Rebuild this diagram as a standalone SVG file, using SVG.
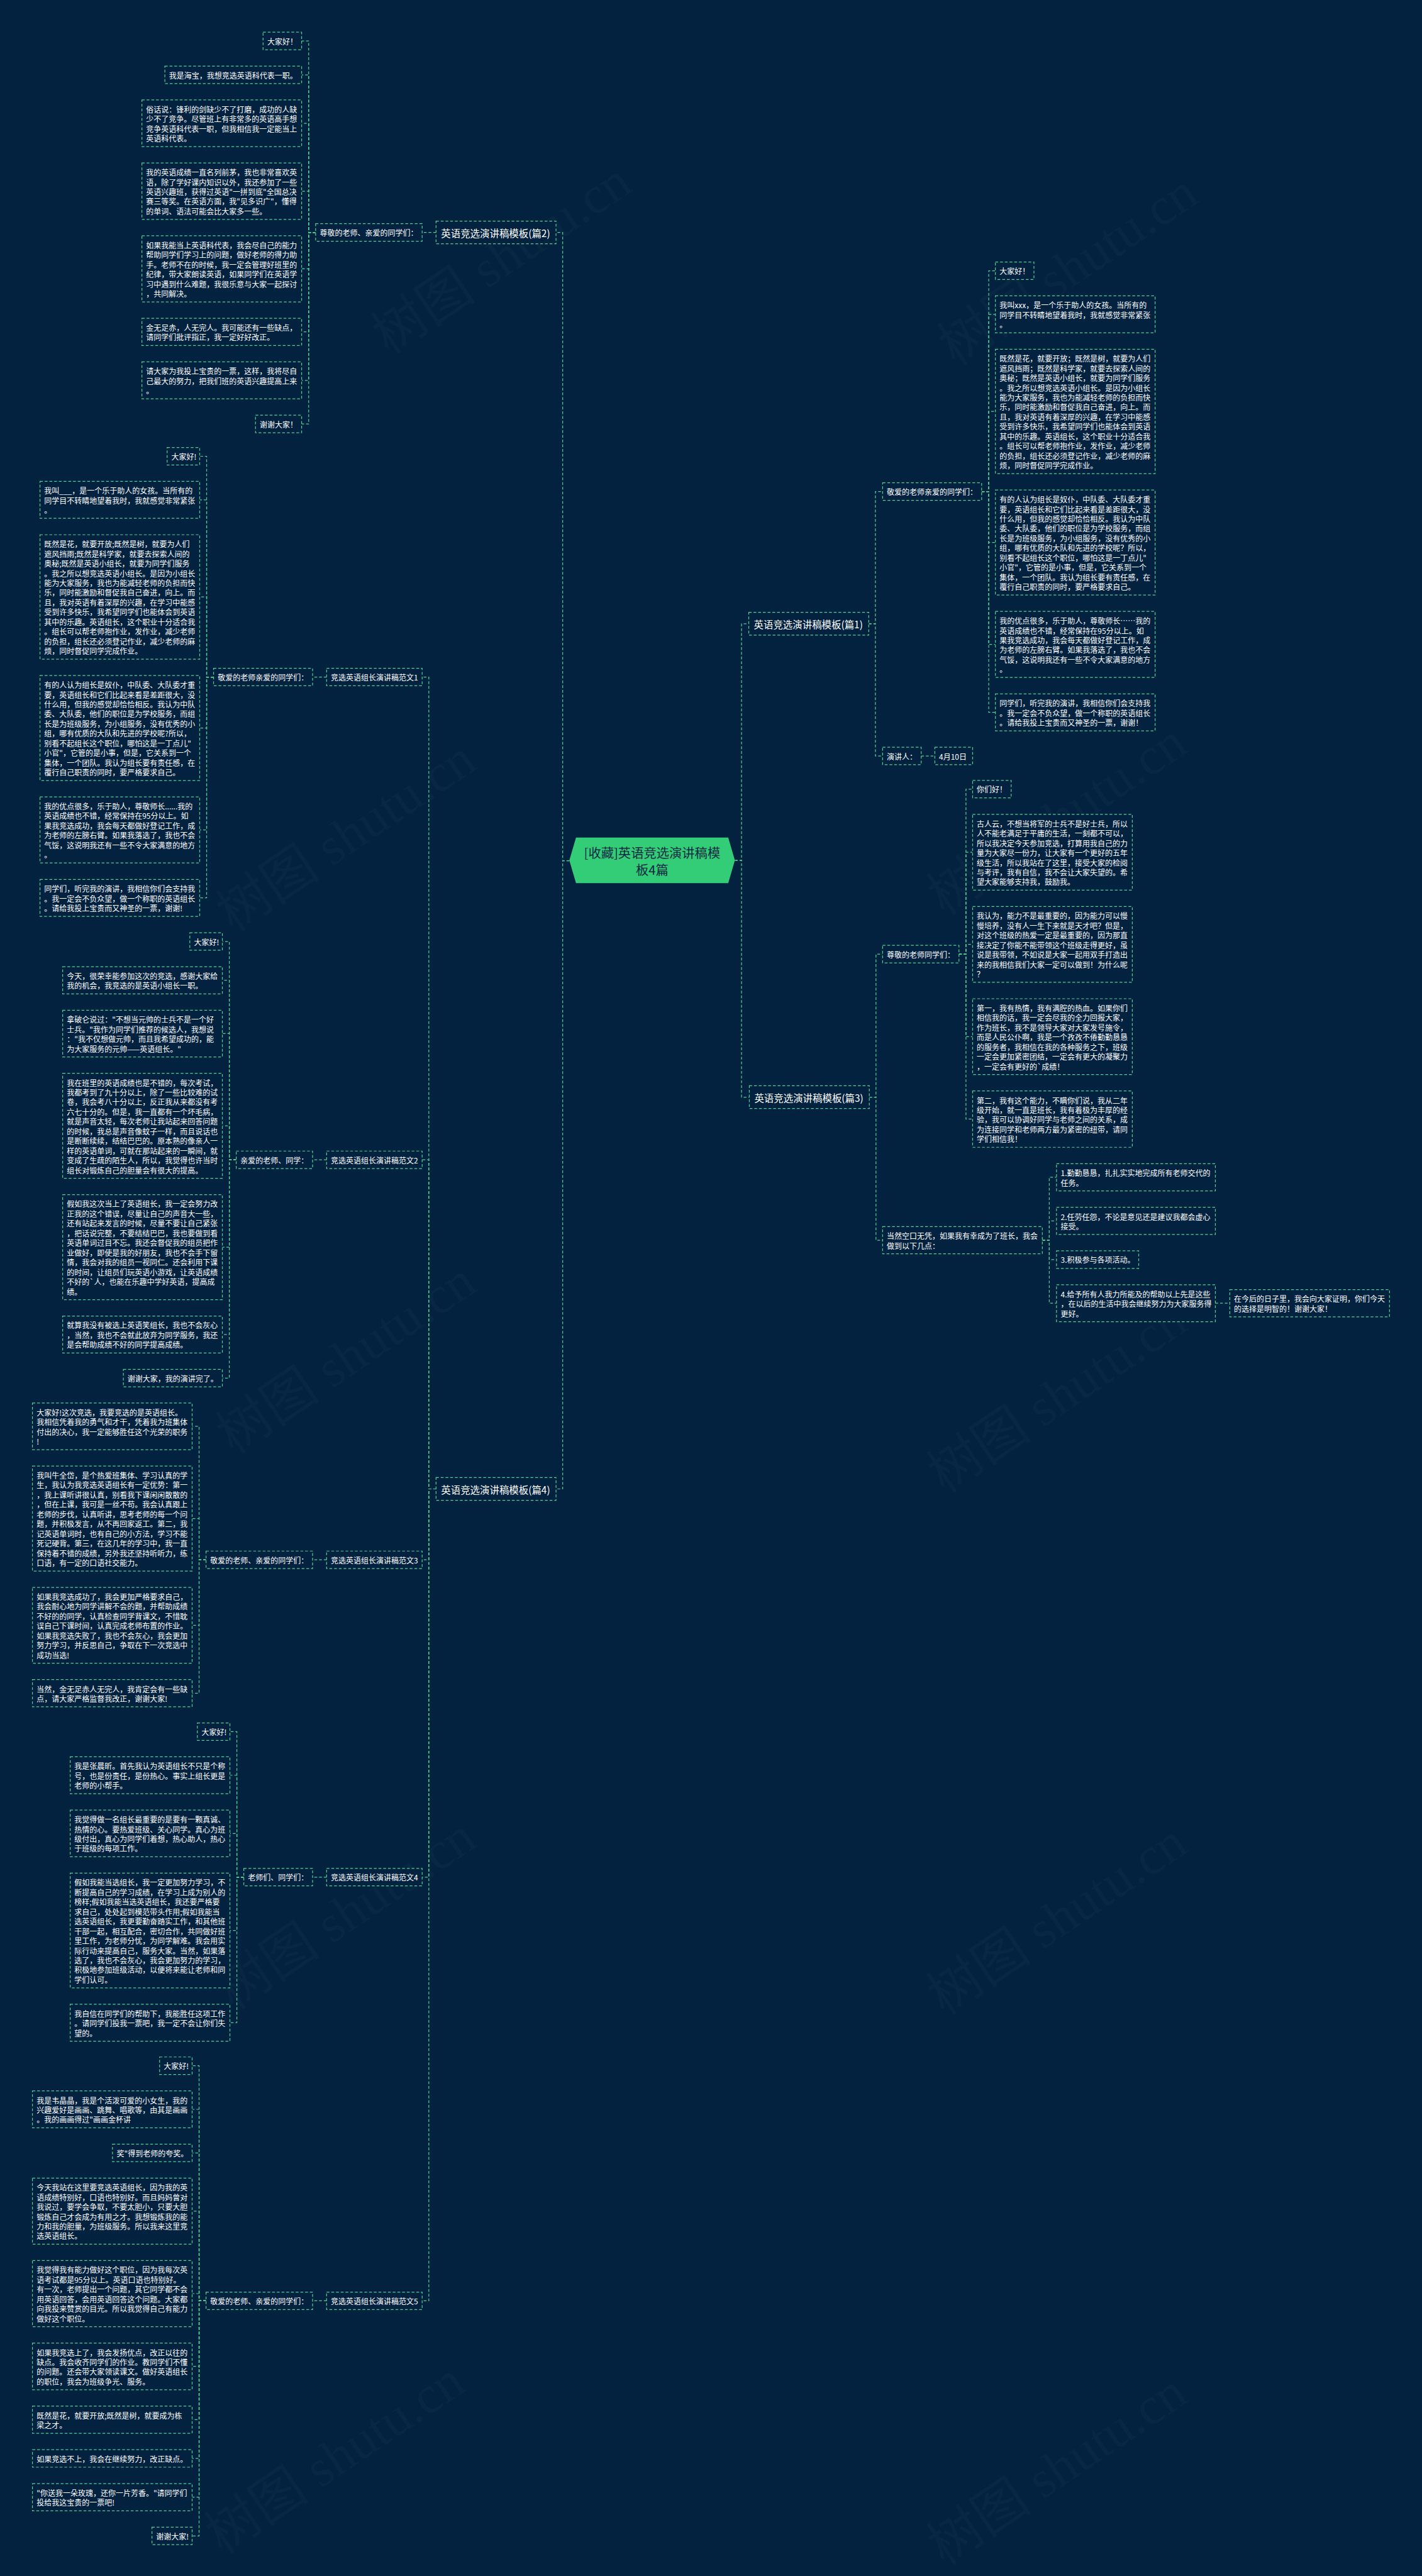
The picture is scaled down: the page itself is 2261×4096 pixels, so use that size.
<svg xmlns="http://www.w3.org/2000/svg" width="2261" height="4096" viewBox="0 0 2261 4096">
<style>
.b{fill:#03223f;stroke:#4fcf91;stroke-width:1.4;stroke-dasharray:5 3.5}
.t{font-family:"Noto Sans CJK SC","Noto Sans",sans-serif;font-size:13.6px;fill:#ffffff;dominant-baseline:central}
.h{font-size:17.5px}
#links path{fill:none;stroke:#4fcf91;stroke-width:1.4;stroke-dasharray:5 3.5}
.wm{font-family:"Liberation Serif","Noto Sans CJK SC",serif;font-size:95px;fill:#ffffff;fill-opacity:0.025}
</style>
<rect x="0" y="0" width="2261" height="4096" fill="#03223f"/>
<g transform="scale(0.8832)">
<g id="watermarks">
<text class="wm" transform="translate(700,640) rotate(-34)">树图 shutu.cn</text>
<text class="wm" transform="translate(1720,660) rotate(-34)">树图 shutu.cn</text>
<text class="wm" transform="translate(420,1680) rotate(-34)">树图 shutu.cn</text>
<text class="wm" transform="translate(1700,1650) rotate(-34)">树图 shutu.cn</text>
<text class="wm" transform="translate(420,2620) rotate(-34)">树图 shutu.cn</text>
<text class="wm" transform="translate(1700,2690) rotate(-34)">树图 shutu.cn</text>
<text class="wm" transform="translate(420,3620) rotate(-34)">树图 shutu.cn</text>
<text class="wm" transform="translate(1700,3630) rotate(-34)">树图 shutu.cn</text>
<text class="wm" transform="translate(400,4600) rotate(-34)">树图 shutu.cn</text>
<text class="wm" transform="translate(1700,4620) rotate(-34)">树图 shutu.cn</text>
</g>
<g id="links">
<path d="M1323 1549.15H1335V1123H1348"/>
<path d="M1323 1549.15H1335V1975.3H1349"/>
<path d="M1564 1123H1576V885H1589"/>
<path d="M1564 1123H1576V1361H1589"/>
<path d="M1767.2 885H1780V487.45H1792"/>
<path d="M1767.2 885H1780V565.95H1792"/>
<path d="M1767.2 885H1780V740.7H1792"/>
<path d="M1767.2 885H1780V976.7H1792"/>
<path d="M1767.2 885H1780V1160.2H1792"/>
<path d="M1767.2 885H1780V1282.45H1792"/>
<path d="M1658.4 1361H1683"/>
<path d="M1565 1975.3H1577V1717.75H1589"/>
<path d="M1565 1975.3H1577V2232.9H1589"/>
<path d="M1726.4 1717.75H1739V1420.75H1751"/>
<path d="M1726.4 1717.75H1739V1534.25H1751"/>
<path d="M1726.4 1717.75H1739V1700.25H1751"/>
<path d="M1726.4 1717.75H1739V1866.25H1751"/>
<path d="M1726.4 1717.75H1739V2014.75H1751"/>
<path d="M1876.5 2232.9H1889V2119.5H1902"/>
<path d="M1876.5 2232.9H1889V2198H1902"/>
<path d="M1876.5 2232.9H1889V2267.75H1902"/>
<path d="M1876.5 2232.9H1889V2346.25H1902"/>
<path d="M2188 2346.25H2214"/>
<path d="M1025 1549.55H1013V418.5H1001"/>
<path d="M1025 1549.55H1013V2680.6H1001"/>
<path d="M785 418.5H760"/>
<path d="M568.2 418.5H555.7V73.75H543"/>
<path d="M568.2 418.5H555.7V134.75H543"/>
<path d="M568.2 418.5H555.7V222H543"/>
<path d="M568.2 418.5H555.7V344.25H543"/>
<path d="M568.2 418.5H555.7V484H543"/>
<path d="M568.2 418.5H555.7V597.5H543"/>
<path d="M568.2 418.5H555.7V684.75H543"/>
<path d="M568.2 418.5H555.7V763.25H543"/>
<path d="M785 2680.6H772V1218.95H760"/>
<path d="M785 2680.6H772V2088.05H760"/>
<path d="M785 2680.6H772V2808.15H760"/>
<path d="M785 2680.6H772V3379.55H760"/>
<path d="M785 2680.6H772V4142.3H760"/>
<path d="M588 1218.95H562.7"/>
<path d="M588 2088.05H562.7"/>
<path d="M588 2808.15H562.7"/>
<path d="M588 3379.55H562.7"/>
<path d="M588 4142.3H562.7"/>
<path d="M384.5 1218.95H372V821.45H359.5"/>
<path d="M384.5 1218.95H372V899.95H359.5"/>
<path d="M384.5 1218.95H372V1074.7H359.5"/>
<path d="M384.5 1218.95H372V1310.7H359.5"/>
<path d="M384.5 1218.95H372V1494.2H359.5"/>
<path d="M384.5 1218.95H372V1616.45H359.5"/>
<path d="M425.3 2088.05H412.8V1695.05H400.3"/>
<path d="M425.3 2088.05H412.8V1764.8H400.3"/>
<path d="M425.3 2088.05H412.8V1860.8H400.3"/>
<path d="M425.3 2088.05H412.8V2026.8H400.3"/>
<path d="M425.3 2088.05H412.8V2245.3H400.3"/>
<path d="M425.3 2088.05H412.8V2402.55H400.3"/>
<path d="M425.3 2088.05H412.8V2481.05H400.3"/>
<path d="M370.9 2808.15H358.4V2567.9H345.9"/>
<path d="M370.9 2808.15H358.4V2733.9H345.9"/>
<path d="M370.9 2808.15H358.4V2926.15H345.9"/>
<path d="M370.9 2808.15H358.4V3048.4H345.9"/>
<path d="M438.9 3379.55H426.4V3117.55H413.9"/>
<path d="M438.9 3379.55H426.4V3196.05H413.9"/>
<path d="M438.9 3379.55H426.4V3300.8H413.9"/>
<path d="M438.9 3379.55H426.4V3475.55H413.9"/>
<path d="M438.9 3379.55H426.4V3641.55H413.9"/>
<path d="M370.9 4142.3H358.4V3719.05H345.9"/>
<path d="M370.9 4142.3H358.4V3797.55H345.9"/>
<path d="M370.9 4142.3H358.4V3876.05H345.9"/>
<path d="M370.9 4142.3H358.4V3980.8H345.9"/>
<path d="M370.9 4142.3H358.4V4129.3H345.9"/>
<path d="M370.9 4142.3H358.4V4260.3H345.9"/>
<path d="M370.9 4142.3H358.4V4356.3H345.9"/>
<path d="M370.9 4142.3H358.4V4426.05H345.9"/>
<path d="M370.9 4142.3H358.4V4495.8H345.9"/>
<path d="M370.9 4142.3H358.4V4565.55H345.9"/>
</g>

<g id="center">
<polygon points="1037,1508 1311,1508 1323,1549 1311,1590 1037,1590 1025,1549" fill="#33cc77"/>
<text x="1174" y="1534" text-anchor="middle" dominant-baseline="central" font-family="Noto Sans CJK SC, Noto Sans, sans-serif" font-size="23" fill="#0b2a44">[收藏]英语竞选演讲稿模</text>
<text x="1174" y="1565" text-anchor="middle" dominant-baseline="central" font-family="Noto Sans CJK SC, Noto Sans, sans-serif" font-size="23" fill="#0b2a44">板4篇</text>
</g>

<!-- Right: 篇1 -->
<g id="p1"><rect class="b" x="1348" y="1102.5" width="216" height="41"/><text class="t h" x="1357" y="1123">英语竞选演讲稿模板(篇1)</text></g>
<g id="p1-l2"><rect class="b" x="1589" y="869.25" width="178.2" height="31.5"/><text class="t" x="1596.5" y="885">敬爱的老师亲爱的同学们：</text></g>
<g id="p1-speaker"><rect class="b" x="1589" y="1345.25" width="69.4" height="31.5"/><text class="t" x="1596.5" y="1361">演讲人：</text></g>
<g id="p1-date"><rect class="b" x="1683" y="1345.25" width="68" height="31.5"/><text class="t" x="1690.5" y="1361">4月10日</text></g>
<g id="r1a"><rect class="b" x="1792" y="471.7" width="69.4" height="31.5"/><text class="t" x="1799.5" y="487.45">大家好！</text></g>
<g id="r1b"><rect class="b" x="1792" y="532.7" width="287.5" height="66.5"/><text class="t" y="548.45"><tspan x="1799.5">我叫xxx，是一个乐于助人的女孩。当所有的</tspan><tspan x="1799.5" dy="17.5">同学目不转睛地望着我时，我就感觉非常紧张</tspan><tspan x="1799.5" dy="17.5">。</tspan></text></g>
<g id="r1c"><rect class="b" x="1792" y="628.7" width="287.5" height="224"/><text class="t" y="644.45"><tspan x="1799.5">既然是花，就要开放；既然是树，就要为人们</tspan><tspan x="1799.5" dy="17.5">遮风挡雨；既然是科学家，就要去探索人间的</tspan><tspan x="1799.5" dy="17.5">奥秘；既然是英语小组长，就要为同学们服务</tspan><tspan x="1799.5" dy="17.5">。我之所以想竞选英语小组长。是因为小组长</tspan><tspan x="1799.5" dy="17.5">能为大家服务，我也为能减轻老师的负担而快</tspan><tspan x="1799.5" dy="17.5">乐，同时能激励和督促我自己奋进，向上。而</tspan><tspan x="1799.5" dy="17.5">且，我对英语有着深厚的兴趣，在学习中能感</tspan><tspan x="1799.5" dy="17.5">受到许多快乐，我希望同学们也能体会到英语</tspan><tspan x="1799.5" dy="17.5">其中的乐趣。英语组长，这个职业十分适合我</tspan><tspan x="1799.5" dy="17.5">。组长可以帮老师抱作业，发作业，减少老师</tspan><tspan x="1799.5" dy="17.5">的负担，组长还必须登记作业，减少老师的麻</tspan><tspan x="1799.5" dy="17.5">烦，同时督促同学完成作业。</tspan></text></g>
<g id="r1d"><rect class="b" x="1792" y="882.2" width="287.5" height="189"/><text class="t" y="897.95"><tspan x="1799.5">有的人认为组长是奴仆，中队委、大队委才重</tspan><tspan x="1799.5" dy="17.5">要，英语组长和它们比起来看是差距很大，没</tspan><tspan x="1799.5" dy="17.5">什么用，但我的感觉却恰恰相反。我认为中队</tspan><tspan x="1799.5" dy="17.5">委、大队委，他们的职位是为学校服务，而组</tspan><tspan x="1799.5" dy="17.5">长是为班级服务，为小组服务，没有优秀的小</tspan><tspan x="1799.5" dy="17.5">组，哪有优质的大队和先进的学校呢？所以，</tspan><tspan x="1799.5" dy="17.5">别看不起组长这个职位，哪怕这是一丁点儿"</tspan><tspan x="1799.5" dy="17.5">小官"，它管的是小事，但是，它关系到一个</tspan><tspan x="1799.5" dy="17.5">集体，一个团队。我认为组长要有责任感，在</tspan><tspan x="1799.5" dy="17.5">覆行自己职责的同时，要严格要求自己。</tspan></text></g>
<g id="r1e"><rect class="b" x="1792" y="1100.7" width="287.5" height="119"/><text class="t" y="1116.45"><tspan x="1799.5">我的优点很多，乐于助人，尊敬师长……我的</tspan><tspan x="1799.5" dy="17.5">英语成绩也不错，经常保持在95分以上。如</tspan><tspan x="1799.5" dy="17.5">果我竞选成功，我会每天都做好登记工作，成</tspan><tspan x="1799.5" dy="17.5">为老师的左膀右臂。如果我落选了，我也不会</tspan><tspan x="1799.5" dy="17.5">气馁，这说明我还有一些不令大家满意的地方</tspan><tspan x="1799.5" dy="17.5">。</tspan></text></g>
<g id="r1f"><rect class="b" x="1792" y="1249.2" width="287.5" height="66.5"/><text class="t" y="1264.95"><tspan x="1799.5">同学们，听完我的演讲，我相信你们会支持我</tspan><tspan x="1799.5" dy="17.5">。我一定会不负众望，做一个称职的英语组长</tspan><tspan x="1799.5" dy="17.5">。请给我投上宝贵而又神圣的一票，谢谢！</tspan></text></g>

<!-- Right: 篇3 -->
<g id="p3"><rect class="b" x="1349" y="1954.8" width="216" height="41"/><text class="t h" x="1358" y="1975.3">英语竞选演讲稿模板(篇3)</text></g>
<g id="p3-l2a"><rect class="b" x="1589" y="1702" width="137.4" height="31.5"/><text class="t" x="1596.5" y="1717.75">尊敬的老师同学们：</text></g>
<g id="r3a"><rect class="b" x="1751" y="1405" width="69.4" height="31.5"/><text class="t" x="1758.5" y="1420.75">你们好！</text></g>
<g id="r3b"><rect class="b" x="1751" y="1466" width="287.5" height="136.5"/><text class="t" y="1481.75"><tspan x="1758.5">古人云，不想当将军的士兵不是好士兵，所以</tspan><tspan x="1758.5" dy="17.5">人不能老满足于平庸的生活，一刻都不可以，</tspan><tspan x="1758.5" dy="17.5">所以我决定今天参加竞选，打算用我自己的力</tspan><tspan x="1758.5" dy="17.5">量为大家尽一份力，让大家有一个更好的五年</tspan><tspan x="1758.5" dy="17.5">级生活，所以我站在了这里，接受大家的检阅</tspan><tspan x="1758.5" dy="17.5">与考评，我有自信，我不会让大家失望的。希</tspan><tspan x="1758.5" dy="17.5">望大家能够支持我，鼓励我。</tspan></text></g>
<g id="r3c"><rect class="b" x="1751" y="1632" width="287.5" height="136.5"/><text class="t" y="1647.75"><tspan x="1758.5">我认为，能力不是最重要的，因为能力可以慢</tspan><tspan x="1758.5" dy="17.5">慢培养，没有人一生下来就是天才吧？但是，</tspan><tspan x="1758.5" dy="17.5">对这个班级的热爱一定是最重要的，因为那直</tspan><tspan x="1758.5" dy="17.5">接决定了你能不能带领这个班级走得更好，虽</tspan><tspan x="1758.5" dy="17.5">说是我带领，不如说是大家一起用双手打造出</tspan><tspan x="1758.5" dy="17.5">来的我相信我们大家一定可以做到！为什么呢</tspan><tspan x="1758.5" dy="17.5">？</tspan></text></g>
<g id="r3d"><rect class="b" x="1751" y="1798" width="287.5" height="136.5"/><text class="t" y="1813.75"><tspan x="1758.5">第一，我有热情，我有满腔的热血。如果你们</tspan><tspan x="1758.5" dy="17.5">相信我的话，我一定会尽我的全力回报大家，</tspan><tspan x="1758.5" dy="17.5">作为班长，我不是领导大家对大家发号施令，</tspan><tspan x="1758.5" dy="17.5">而是人民公仆啊，我是一个孜孜不倦勤勤恳恳</tspan><tspan x="1758.5" dy="17.5">的服务者，我相信在我的各种服务之下，班级</tspan><tspan x="1758.5" dy="17.5">一定会更加紧密团结，一定会有更大的凝聚力</tspan><tspan x="1758.5" dy="17.5">，一定会有更好的`成绩！</tspan></text></g>
<g id="r3e"><rect class="b" x="1751" y="1964" width="287.5" height="101.5"/><text class="t" y="1979.75"><tspan x="1758.5">第二，我有这个能力，不瞒你们说，我从二年</tspan><tspan x="1758.5" dy="17.5">级开始，就一直是班长，我有着极为丰厚的经</tspan><tspan x="1758.5" dy="17.5">验，我可以协调好同学与老师之间的关系，成</tspan><tspan x="1758.5" dy="17.5">为连接同学和老师两方最为紧密的纽带，请同</tspan><tspan x="1758.5" dy="17.5">学们相信我！</tspan></text></g>
<g id="p3-l2b"><rect class="b" x="1589" y="2208.4" width="287.5" height="49"/><text class="t" y="2224.15"><tspan x="1596.5">当然空口无凭，如果我有幸成为了班长，我会</tspan><tspan x="1596.5" dy="17.5">做到以下几点：</tspan></text></g>
<g id="i1"><rect class="b" x="1902" y="2095" width="286" height="49"/><text class="t" y="2110.75"><tspan x="1909.5">1.勤勤恳恳，扎扎实实地完成所有老师交代的</tspan><tspan x="1909.5" dy="17.5">任务。</tspan></text></g>
<g id="i2"><rect class="b" x="1902" y="2173.5" width="286" height="49"/><text class="t" y="2189.25"><tspan x="1909.5">2.任劳任怨，不论是意见还是建议我都会虚心</tspan><tspan x="1909.5" dy="17.5">接受。</tspan></text></g>
<g id="i3"><rect class="b" x="1902" y="2252" width="148" height="31.5"/><text class="t" x="1909.5" y="2267.75">3.积极参与各项活动。</text></g>
<g id="i4"><rect class="b" x="1902" y="2313" width="286" height="66.5"/><text class="t" y="2328.75"><tspan x="1909.5">4.给予所有人我力所能及的帮助以上先是这些</tspan><tspan x="1909.5" dy="17.5">，在以后的生活中我会继续努力为大家服务得</tspan><tspan x="1909.5" dy="17.5">更好。</tspan></text></g>
<g id="i4a"><rect class="b" x="2214" y="2321.75" width="287.5" height="49"/><text class="t" y="2337.5"><tspan x="2221.5">在今后的日子里，我会向大家证明，你们今天</tspan><tspan x="2221.5" dy="17.5">的选择是明智的！谢谢大家！</tspan></text></g>

<!-- Left: 篇2 -->
<g id="p2"><rect class="b" x="785" y="398" width="216" height="41"/><text class="t h" x="794" y="418.5">英语竞选演讲稿模板(篇2)</text></g>
<g id="p2-l2"><rect class="b" x="568.2" y="402.75" width="191.8" height="31.5"/><text class="t" x="575.7" y="418.5">尊敬的老师、亲爱的同学们：</text></g>
<g id="l2a"><rect class="b" x="473.6" y="58" width="69.4" height="31.5"/><text class="t" x="481.1" y="73.75">大家好！</text></g>
<g id="l2b"><rect class="b" x="296.8" y="119" width="246.2" height="31.5"/><text class="t" x="304.3" y="134.75">我是海宝，我想竞选英语科代表一职。</text></g>
<g id="l2c"><rect class="b" x="255.5" y="180" width="287.5" height="84"/><text class="t" y="195.75"><tspan x="263">俗话说：锋利的剑缺少不了打磨，成功的人缺</tspan><tspan x="263" dy="17.5">少不了竞争。尽管班上有非常多的英语高手想</tspan><tspan x="263" dy="17.5">竞争英语科代表一职，但我相信我一定能当上</tspan><tspan x="263" dy="17.5">英语科代表。</tspan></text></g>
<g id="l2d"><rect class="b" x="255.5" y="293.5" width="287.5" height="101.5"/><text class="t" y="309.25"><tspan x="263">我的英语成绩一直名列前茅，我也非常喜欢英</tspan><tspan x="263" dy="17.5">语，除了学好课内知识以外，我还参加了一些</tspan><tspan x="263" dy="17.5">英语兴趣班，获得过英语"一拼到底"全国总决</tspan><tspan x="263" dy="17.5">赛三等奖。在英语方面，我"见多识广"，懂得</tspan><tspan x="263" dy="17.5">的单词、语法可能会比大家多一些。</tspan></text></g>
<g id="l2e"><rect class="b" x="255.5" y="424.5" width="287.5" height="119"/><text class="t" y="440.25"><tspan x="263">如果我能当上英语科代表，我会尽自己的能力</tspan><tspan x="263" dy="17.5">帮助同学们学习上的问题，做好老师的得力助</tspan><tspan x="263" dy="17.5">手。老师不在的时候，我一定会管理好班里的</tspan><tspan x="263" dy="17.5">纪律，带大家朗读英语，如果同学们在英语学</tspan><tspan x="263" dy="17.5">习中遇到什么难题，我很乐意与大家一起探讨</tspan><tspan x="263" dy="17.5">，共同解决。</tspan></text></g>
<g id="l2f"><rect class="b" x="255.5" y="573" width="287.5" height="49"/><text class="t" y="588.75"><tspan x="263">金无足赤，人无完人。我可能还有一些缺点，</tspan><tspan x="263" dy="17.5">请同学们批评指正，我一定好好改正。</tspan></text></g>
<g id="l2g"><rect class="b" x="255.5" y="651.5" width="287.5" height="66.5"/><text class="t" y="667.25"><tspan x="263">请大家为我投上宝贵的一票，这样，我将尽自</tspan><tspan x="263" dy="17.5">己最大的努力，把我们班的英语兴趣提高上来</tspan><tspan x="263" dy="17.5">。</tspan></text></g>
<g id="l2h"><rect class="b" x="460" y="747.5" width="83" height="31.5"/><text class="t" x="467.5" y="763.25">谢谢大家！</text></g>

<!-- Left: 篇4 -->
<g id="p4"><rect class="b" x="785" y="2660.1" width="216" height="41"/><text class="t h" x="794" y="2680.6">英语竞选演讲稿模板(篇4)</text></g>

<g id="f1"><rect class="b" x="588" y="1203.2" width="172" height="31.5"/><text class="t" x="595.5" y="1218.95">竞选英语组长演讲稿范文1</text></g>
<g id="f1-l3"><rect class="b" x="384.5" y="1203.2" width="178.2" height="31.5"/><text class="t" x="392" y="1218.95">敬爱的老师亲爱的同学们：</text></g>
<g id="f1a"><rect class="b" x="300.9" y="805.7" width="58.6" height="31.5"/><text class="t" x="308.4" y="821.45">大家好!</text></g>
<g id="f1b"><rect class="b" x="72" y="866.7" width="287.5" height="66.5"/><text class="t" y="882.45"><tspan x="79.5">我叫___，是一个乐于助人的女孩。当所有的</tspan><tspan x="79.5" dy="17.5">同学目不转睛地望着我时，我就感觉非常紧张</tspan><tspan x="79.5" dy="17.5">。</tspan></text></g>
<g id="f1c"><rect class="b" x="72" y="962.7" width="287.5" height="224"/><text class="t" y="978.45"><tspan x="79.5">既然是花，就要开放;既然是树，就要为人们</tspan><tspan x="79.5" dy="17.5">遮风挡雨;既然是科学家，就要去探索人间的</tspan><tspan x="79.5" dy="17.5">奥秘;既然是英语小组长，就要为同学们服务</tspan><tspan x="79.5" dy="17.5">。我之所以想竞选英语小组长。是因为小组长</tspan><tspan x="79.5" dy="17.5">能为大家服务，我也为能减轻老师的负担而快</tspan><tspan x="79.5" dy="17.5">乐，同时能激励和督促我自己奋进，向上。而</tspan><tspan x="79.5" dy="17.5">且，我对英语有着深厚的兴趣，在学习中能感</tspan><tspan x="79.5" dy="17.5">受到许多快乐，我希望同学们也能体会到英语</tspan><tspan x="79.5" dy="17.5">其中的乐趣。英语组长，这个职业十分适合我</tspan><tspan x="79.5" dy="17.5">。组长可以帮老师抱作业，发作业，减少老师</tspan><tspan x="79.5" dy="17.5">的负担，组长还必须登记作业，减少老师的麻</tspan><tspan x="79.5" dy="17.5">烦，同时督促同学完成作业。</tspan></text></g>
<g id="f1d"><rect class="b" x="72" y="1216.2" width="287.5" height="189"/><text class="t" y="1231.95"><tspan x="79.5">有的人认为组长是奴仆，中队委、大队委才重</tspan><tspan x="79.5" dy="17.5">要，英语组长和它们比起来看是差距很大，没</tspan><tspan x="79.5" dy="17.5">什么用，但我的感觉却恰恰相反。我认为中队</tspan><tspan x="79.5" dy="17.5">委、大队委，他们的职位是为学校服务，而组</tspan><tspan x="79.5" dy="17.5">长是为班级服务，为小组服务，没有优秀的小</tspan><tspan x="79.5" dy="17.5">组，哪有优质的大队和先进的学校呢?所以，</tspan><tspan x="79.5" dy="17.5">别看不起组长这个职位，哪怕这是一丁点儿"</tspan><tspan x="79.5" dy="17.5">小官"，它管的是小事，但是，它关系到一个</tspan><tspan x="79.5" dy="17.5">集体，一个团队。我认为组长要有责任感，在</tspan><tspan x="79.5" dy="17.5">覆行自己职责的同时，要严格要求自己。</tspan></text></g>
<g id="f1e"><rect class="b" x="72" y="1434.7" width="287.5" height="119"/><text class="t" y="1450.45"><tspan x="79.5">我的优点很多，乐于助人，尊敬师长......我的</tspan><tspan x="79.5" dy="17.5">英语成绩也不错，经常保持在95分以上。如</tspan><tspan x="79.5" dy="17.5">果我竞选成功，我会每天都做好登记工作，成</tspan><tspan x="79.5" dy="17.5">为老师的左膀右臂。如果我落选了，我也不会</tspan><tspan x="79.5" dy="17.5">气馁，这说明我还有一些不令大家满意的地方</tspan><tspan x="79.5" dy="17.5">。</tspan></text></g>
<g id="f1f"><rect class="b" x="72" y="1583.2" width="287.5" height="66.5"/><text class="t" y="1598.95"><tspan x="79.5">同学们，听完我的演讲，我相信你们会支持我</tspan><tspan x="79.5" dy="17.5">。我一定会不负众望，做一个称职的英语组长</tspan><tspan x="79.5" dy="17.5">。请给我投上宝贵而又神圣的一票，谢谢!</tspan></text></g>

<g id="f2"><rect class="b" x="588" y="2072.3" width="172" height="31.5"/><text class="t" x="595.5" y="2088.05">竞选英语组长演讲稿范文2</text></g>
<g id="f2-l3"><rect class="b" x="425.3" y="2072.3" width="137.4" height="31.5"/><text class="t" x="432.8" y="2088.05">亲爱的老师、同学：</text></g>
<g id="f2a"><rect class="b" x="341.7" y="1679.3" width="58.6" height="31.5"/><text class="t" x="349.2" y="1695.05">大家好!</text></g>
<g id="f2b"><rect class="b" x="112.8" y="1740.3" width="287.5" height="49"/><text class="t" y="1756.05"><tspan x="120.3">今天，很荣幸能参加这次的竞选，感谢大家给</tspan><tspan x="120.3" dy="17.5">我的机会，我竞选的是英语小组长一职。</tspan></text></g>
<g id="f2c"><rect class="b" x="112.8" y="1818.8" width="287.5" height="84"/><text class="t" y="1834.55"><tspan x="120.3">拿破仑说过："不想当元帅的士兵不是一个好</tspan><tspan x="120.3" dy="17.5">士兵。"我作为同学们推荐的候选人，我想说</tspan><tspan x="120.3" dy="17.5">："我不仅想做元帅，而且我希望成功的，能</tspan><tspan x="120.3" dy="17.5">为大家服务的元帅——英语组长。"</tspan></text></g>
<g id="f2d"><rect class="b" x="112.8" y="1932.3" width="287.5" height="189"/><text class="t" y="1948.05"><tspan x="120.3">我在班里的英语成绩也是不错的，每次考试，</tspan><tspan x="120.3" dy="17.5">我都考到了九十分以上，除了一些比较难的试</tspan><tspan x="120.3" dy="17.5">卷，我会考八十分以上，反正我从来都没有考</tspan><tspan x="120.3" dy="17.5">六七十分的。但是，我一直都有一个坏毛病，</tspan><tspan x="120.3" dy="17.5">就是声音太轻，每次老师让我站起来回答问题</tspan><tspan x="120.3" dy="17.5">的时候，我总是声音像蚊子一样，而且说话也</tspan><tspan x="120.3" dy="17.5">是断断续续，结结巴巴的。原本熟的像亲人一</tspan><tspan x="120.3" dy="17.5">样的英语单词，可就在那站起来的一瞬间，就</tspan><tspan x="120.3" dy="17.5">变成了生疏的陌生人，所以，我觉得也许当时</tspan><tspan x="120.3" dy="17.5">组长对锻炼自己的胆量会有很大的提高。</tspan></text></g>
<g id="f2e"><rect class="b" x="112.8" y="2150.8" width="287.5" height="189"/><text class="t" y="2166.55"><tspan x="120.3">假如我这次当上了英语组长，我一定会努力改</tspan><tspan x="120.3" dy="17.5">正我的这个错误，尽量让自己的声音大一些，</tspan><tspan x="120.3" dy="17.5">还有站起来发言的时候，尽量不要让自己紧张</tspan><tspan x="120.3" dy="17.5">，把话说完整，不要结结巴巴，我也要做到看</tspan><tspan x="120.3" dy="17.5">英语单词过目不忘。我还会督促我的组员把作</tspan><tspan x="120.3" dy="17.5">业做好，即使是我的好朋友，我也不会手下留</tspan><tspan x="120.3" dy="17.5">情，我会对我的组员一视同仁。还会利用下课</tspan><tspan x="120.3" dy="17.5">的时间，让组员们玩英语小游戏，让英语成绩</tspan><tspan x="120.3" dy="17.5">不好的`人，也能在乐趣中学好英语，提高成</tspan><tspan x="120.3" dy="17.5">绩。</tspan></text></g>
<g id="f2f"><rect class="b" x="112.8" y="2369.3" width="287.5" height="66.5"/><text class="t" y="2385.05"><tspan x="120.3">就算我没有被选上英语笑组长，我也不会灰心</tspan><tspan x="120.3" dy="17.5">，当然，我也不会就此放弃为同学服务，我还</tspan><tspan x="120.3" dy="17.5">是会帮助成绩不好的同学提高成绩。</tspan></text></g>
<g id="f2g"><rect class="b" x="222.1" y="2465.3" width="178.2" height="31.5"/><text class="t" x="229.6" y="2481.05">谢谢大家，我的演讲完了。</text></g>

<g id="f3"><rect class="b" x="588" y="2792.4" width="172" height="31.5"/><text class="t" x="595.5" y="2808.15">竞选英语组长演讲稿范文3</text></g>
<g id="f3-l3"><rect class="b" x="370.9" y="2792.4" width="191.8" height="31.5"/><text class="t" x="378.4" y="2808.15">敬爱的老师、亲爱的同学们：</text></g>
<g id="f3a"><rect class="b" x="58.4" y="2525.9" width="287.5" height="84"/><text class="t" y="2541.65"><tspan x="65.9">大家好!这次竞选，我要竞选的是英语组长。</tspan><tspan x="65.9" dy="17.5">我相信凭着我的勇气和才干，凭着我为班集体</tspan><tspan x="65.9" dy="17.5">付出的决心，我一定能够胜任这个光荣的职务</tspan><tspan x="65.9" dy="17.5">!</tspan></text></g>
<g id="f3b"><rect class="b" x="58.4" y="2639.4" width="287.5" height="189"/><text class="t" y="2655.15"><tspan x="65.9">我叫牛全岱，是个热爱班集体、学习认真的学</tspan><tspan x="65.9" dy="17.5">生，我认为我竞选英语组长有一定优势：第一</tspan><tspan x="65.9" dy="17.5">，我上课听讲很认真，别看我下课闲闲散散的</tspan><tspan x="65.9" dy="17.5">，但在上课，我可是一丝不苟。我会认真跟上</tspan><tspan x="65.9" dy="17.5">老师的步伐，认真听讲，思考老师的每一个问</tspan><tspan x="65.9" dy="17.5">题，并积极发言，从不再回家返工。第二，我</tspan><tspan x="65.9" dy="17.5">记英语单词时，也有自己的小方法，学习不能</tspan><tspan x="65.9" dy="17.5">死记硬背。第三，在这几年的学习中，我一直</tspan><tspan x="65.9" dy="17.5">保持着不错的成绩，另外我还坚持听听力，练</tspan><tspan x="65.9" dy="17.5">口语，有一定的口语社交能力。</tspan></text></g>
<g id="f3c"><rect class="b" x="58.4" y="2857.9" width="287.5" height="136.5"/><text class="t" y="2873.65"><tspan x="65.9">如果我竞选成功了，我会更加严格要求自己，</tspan><tspan x="65.9" dy="17.5">我会耐心地为同学讲解不会的题，并帮助成绩</tspan><tspan x="65.9" dy="17.5">不好的的同学，认真检查同学背课文，不惜耽</tspan><tspan x="65.9" dy="17.5">误自己下课时间，认真完成老师布置的作业。</tspan><tspan x="65.9" dy="17.5">如果我竞选失败了，我也不会灰心，我会更加</tspan><tspan x="65.9" dy="17.5">努力学习，并反思自己，争取在下一次竞选中</tspan><tspan x="65.9" dy="17.5">成功当选!</tspan></text></g>
<g id="f3d"><rect class="b" x="58.4" y="3023.9" width="287.5" height="49"/><text class="t" y="3039.65"><tspan x="65.9">当然，金无足赤人无完人，我肯定会有一些缺</tspan><tspan x="65.9" dy="17.5">点，请大家严格监督我改正，谢谢大家!</tspan></text></g>

<g id="f4"><rect class="b" x="588" y="3363.8" width="172" height="31.5"/><text class="t" x="595.5" y="3379.55">竞选英语组长演讲稿范文4</text></g>
<g id="f4-l3"><rect class="b" x="438.9" y="3363.8" width="123.8" height="31.5"/><text class="t" x="446.4" y="3379.55">老师们、同学们：</text></g>
<g id="f4a"><rect class="b" x="355.3" y="3101.8" width="58.6" height="31.5"/><text class="t" x="362.8" y="3117.55">大家好!</text></g>
<g id="f4b"><rect class="b" x="126.4" y="3162.8" width="287.5" height="66.5"/><text class="t" y="3178.55"><tspan x="133.9">我是张晨昕。首先我认为英语组长不只是个称</tspan><tspan x="133.9" dy="17.5">号，也是份责任，是份热心。事实上组长更是</tspan><tspan x="133.9" dy="17.5">老师的小帮手。</tspan></text></g>
<g id="f4c"><rect class="b" x="126.4" y="3258.8" width="287.5" height="84"/><text class="t" y="3274.55"><tspan x="133.9">我觉得做一名组长最重要的是要有一颗真诚、</tspan><tspan x="133.9" dy="17.5">热情的心。要热爱班级、关心同学。真心为班</tspan><tspan x="133.9" dy="17.5">级付出，真心为同学们着想，热心助人，热心</tspan><tspan x="133.9" dy="17.5">于班级的每项工作。</tspan></text></g>
<g id="f4d"><rect class="b" x="126.4" y="3372.3" width="287.5" height="206.5"/><text class="t" y="3388.05"><tspan x="133.9">假如我能当选组长，我一定更加努力学习，不</tspan><tspan x="133.9" dy="17.5">断提高自己的学习成绩，在学习上成为别人的</tspan><tspan x="133.9" dy="17.5">榜样;假如我能当选英语组长，我还要严格要</tspan><tspan x="133.9" dy="17.5">求自己，处处起到模范带头作用;假如我能当</tspan><tspan x="133.9" dy="17.5">选英语组长，我更要勤奋踏实工作，和其他班</tspan><tspan x="133.9" dy="17.5">干部一起，相互配合，密切合作，共同做好班</tspan><tspan x="133.9" dy="17.5">里工作，为老师分忧，为同学解难。我会用实</tspan><tspan x="133.9" dy="17.5">际行动来提高自己，服务大家。当然，如果落</tspan><tspan x="133.9" dy="17.5">选了，我也不会灰心，我会更加努力的学习，</tspan><tspan x="133.9" dy="17.5">积极地参加班级活动，以便将来能让老师和同</tspan><tspan x="133.9" dy="17.5">学们认可。</tspan></text></g>
<g id="f4e"><rect class="b" x="126.4" y="3608.3" width="287.5" height="66.5"/><text class="t" y="3624.05"><tspan x="133.9">我自信在同学们的帮助下，我能胜任这项工作</tspan><tspan x="133.9" dy="17.5">。请同学们投我一票吧，我一定不会让你们失</tspan><tspan x="133.9" dy="17.5">望的。</tspan></text></g>

<g id="f5"><rect class="b" x="588" y="4126.5" width="172" height="31.5"/><text class="t" x="595.5" y="4142.3">竞选英语组长演讲稿范文5</text></g>
<g id="f5-l3"><rect class="b" x="370.9" y="4126.5" width="191.8" height="31.5"/><text class="t" x="378.4" y="4142.3">敬爱的老师、亲爱的同学们：</text></g>
<g id="f5a"><rect class="b" x="287.3" y="3703.3" width="58.6" height="31.5"/><text class="t" x="294.8" y="3719.05">大家好!</text></g>
<g id="f5b"><rect class="b" x="58.4" y="3764.3" width="287.5" height="66.5"/><text class="t" y="3780.05"><tspan x="65.9">我是韦晶晶，我是个活泼可爱的小女生，我的</tspan><tspan x="65.9" dy="17.5">兴趣爱好是画画、跳舞、唱歌等，由其是画画</tspan><tspan x="65.9" dy="17.5">。我的画画得过"画画金杯讲</tspan></text></g>
<g id="f5c"><rect class="b" x="202.5" y="3860.3" width="143.4" height="31.5"/><text class="t" x="210" y="3876.05">奖"得到老师的夸奖。</text></g>
<g id="f5d"><rect class="b" x="58.4" y="3921.3" width="287.5" height="119"/><text class="t" y="3937.05"><tspan x="65.9">今天我站在这里要竞选英语组长，因为我的英</tspan><tspan x="65.9" dy="17.5">语成绩特别好，口语也特别好。而且妈妈曾对</tspan><tspan x="65.9" dy="17.5">我说过，要学会争取，不要太胆小，只要大胆</tspan><tspan x="65.9" dy="17.5">锻炼自己才会成为有用之才。我想锻炼我的能</tspan><tspan x="65.9" dy="17.5">力和我的胆量，为班级服务。所以我来这里竞</tspan><tspan x="65.9" dy="17.5">选英语组长。</tspan></text></g>
<g id="f5e"><rect class="b" x="58.4" y="4069.8" width="287.5" height="119"/><text class="t" y="4085.55"><tspan x="65.9">我觉得我有能力做好这个职位，因为我每次英</tspan><tspan x="65.9" dy="17.5">语考试都是95分以上。英语口语也特别好。</tspan><tspan x="65.9" dy="17.5">有一次，老师提出一个问题，其它同学都不会</tspan><tspan x="65.9" dy="17.5">用英语回答，会用英语回答这个问题。大家都</tspan><tspan x="65.9" dy="17.5">向我投来赞赏的目光。所以我觉得自己有能力</tspan><tspan x="65.9" dy="17.5">做好这个职位。</tspan></text></g>
<g id="f5f"><rect class="b" x="58.4" y="4218.3" width="287.5" height="84"/><text class="t" y="4234.05"><tspan x="65.9">如果我竞选上了，我会发扬优点，改正以往的</tspan><tspan x="65.9" dy="17.5">缺点。我会收齐同学们的作业。教同学们不懂</tspan><tspan x="65.9" dy="17.5">的问题。还会带大家领读课文。做好英语组长</tspan><tspan x="65.9" dy="17.5">的职位，我会为班级争光、服务。</tspan></text></g>
<g id="f5g"><rect class="b" x="58.4" y="4331.8" width="287.5" height="49"/><text class="t" y="4347.55"><tspan x="65.9">既然是花，就要开放;既然是树，就要成为栋</tspan><tspan x="65.9" dy="17.5">梁之才。</tspan></text></g>
<g id="f5h"><rect class="b" x="58.4" y="4410.3" width="287.5" height="31.5"/><text class="t" x="65.9" y="4426.05">如果竞选不上，我会在继续努力，改正缺点。</text></g>
<g id="f5i"><rect class="b" x="58.4" y="4471.3" width="287.5" height="49"/><text class="t" y="4487.05"><tspan x="65.9">"你送我一朵玫瑰，还你一片芳香。"请同学们</tspan><tspan x="65.9" dy="17.5">投给我这宝贵的一票吧!</tspan></text></g>
<g id="f5j"><rect class="b" x="273.6" y="4549.8" width="72.3" height="31.5"/><text class="t" x="281.1" y="4565.55">谢谢大家!</text></g>
</g>
</svg>
